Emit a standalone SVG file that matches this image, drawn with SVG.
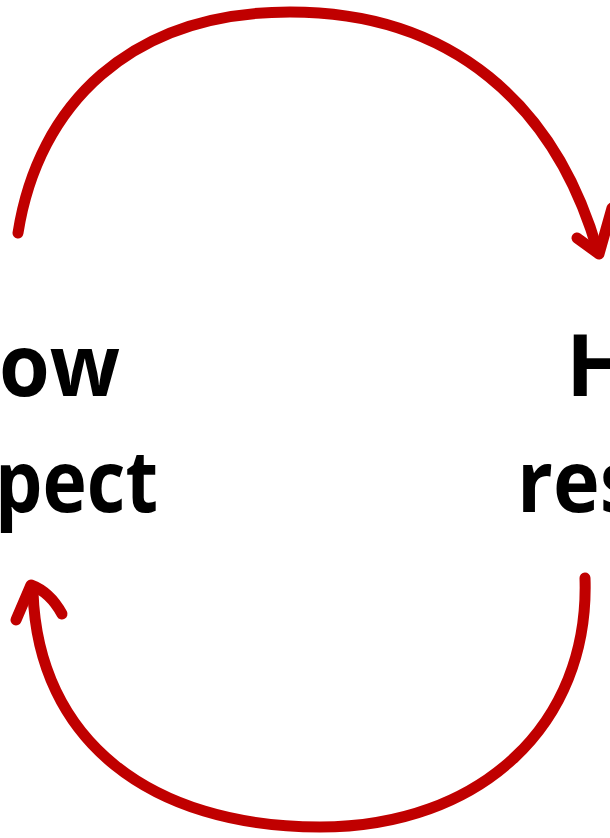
<svg xmlns="http://www.w3.org/2000/svg" width="610" height="838" viewBox="0 0 610 838">
<style>
.arc{fill:none;stroke:#c00000;stroke-width:11;stroke-linecap:round;stroke-linejoin:round}
.lbl{font-family:"Open Sans","Liberation Sans",sans-serif;font-weight:bold;font-size:86px;fill:#000}
</style>
<rect width="610" height="838" fill="#fff"/>
<g id="node-left">
<text class="lbl" x="120" y="396" text-anchor="end" textLength="121" lengthAdjust="spacingAndGlyphs">ow</text>
<text class="lbl" x="158" y="512" text-anchor="end" textLength="163" lengthAdjust="spacingAndGlyphs">pect</text>
</g>
<g id="node-right">
<text class="lbl" x="566" y="396">H</text>
<text class="lbl" x="517" y="512" textLength="122" lengthAdjust="spacingAndGlyphs">res</text>
</g>
<g id="connectors">
<path class="arc" d="M18,233 C38,105 130,12 290,12 C452,12 556,105 598,252"/>
<path class="arc" d="M577,238 L599,254 L612,208"/>
<path class="arc" d="M585,578 C590,725 480,827 320,827 C150,827 38,740 33,592"/>
<path class="arc" d="M16,620 L31,585 Q50,592 62,614"/>
</g>
</svg>
